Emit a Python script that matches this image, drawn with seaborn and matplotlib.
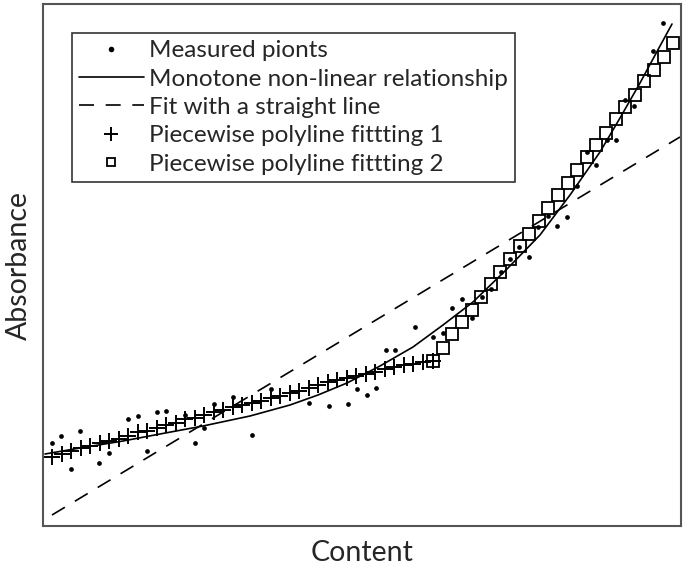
import matplotlib
matplotlib.use("Agg")
import pandas as pd
import seaborn as sns
from matplotlib import pyplot as plt

# values, in arbitrary units (no ticks on the chart)
measured_x = [9, 18, 28, 37, 56, 66, 85, 95, 104, 114, 123, 142, 152, 161, 171, 190, 209, 228,
              266, 286, 305, 314, 324, 333, 343, 352, 372, 390, 400, 409, 419, 429, 439, 448,
              458, 467, 476, 486, 495, 505, 514, 524, 534, 544, 553, 564, 573, 582, 591, 610, 620]
measured_y = [83, 90, 57, 95, 63, 73, 107, 110, 75, 114, 115, 111, 83, 98, 122, 129, 91, 137,
              123, 120, 122, 137, 131, 138, 176, 176, 199, 189, 193, 218, 227, 208, 229, 237,
              254, 267, 279, 269, 299, 310, 300, 309, 340, 374, 361, 386, 386, 426, 420, 475, 503]

curve_x = [2, 37, 80, 117, 160, 207, 247, 275, 304, 337, 370, 400, 430, 464, 497, 527, 557,
           577, 597, 617, 629]
curve_y = [72, 78, 85, 92, 100, 110, 121, 131, 143, 160, 179, 201, 224, 257, 291, 331, 374,
           408, 443, 480, 502]

straight_x = [9, 637]
straight_y = [11, 389]

piece1_x = [9, 19, 28, 38, 47, 57, 66, 76, 85, 95, 104, 114, 123, 133, 142, 152, 161, 171, 180,
            190, 199, 209, 218, 228, 237, 247, 256, 266, 275, 285, 294, 304, 313, 323, 332, 342,
            351, 361, 370, 380, 390]
piece1_y = [69, 72, 75, 78, 80, 83, 85, 87, 90, 94, 95, 98, 101, 103, 107, 108, 111, 114, 116,
            119, 121, 123, 125, 128, 130, 133, 135, 138, 141, 144, 146, 148, 150, 152, 154, 157,
            159, 161, 162, 164, 165]

piece2_x = [390, 400, 409, 419, 429, 438, 448, 457, 467, 477, 486, 496, 505, 515, 525, 534, 544,
            553, 563, 573, 582, 592, 601, 611, 621, 630]
piece2_y = [165, 178, 192, 204, 216, 229, 242, 254, 267, 280, 292, 305, 318, 331, 343, 356, 369,
            381, 393, 407, 419, 431, 445, 456, 469, 483]

measured = pd.DataFrame({"x": measured_x, "y": measured_y})
curve = pd.DataFrame({"x": curve_x, "y": curve_y})
straight = pd.DataFrame({"x": straight_x, "y": straight_y})
piece1 = pd.DataFrame({"x": piece1_x, "y": piece1_y})
piece2 = pd.DataFrame({"x": piece2_x, "y": piece2_y})

sns.set_style("white")
plt.rcParams["font.family"] = ["Lato", "DejaVu Sans"]

fig = plt.figure(figsize=(6.85, 5.74), dpi=100)
ax = fig.add_axes([43 / 685, 48 / 574, 638 / 685, 522 / 574])

sns.lineplot(data=curve, x="x", y="y", color="black", lw=1.2, ax=ax,
             label="Monotone non-linear relationship")
sns.lineplot(data=straight, x="x", y="y", color="black", lw=1.2, ax=ax,
             label="Fit with a straight line", dashes=False, linestyle=(0, (9, 7)))
sns.lineplot(data=piece1, x="x", y="y", color="black", ax=ax, linestyle="", marker="+",
             markersize=12, markeredgewidth=1.4, markeredgecolor="black",
             label="Piecewise polyline fittting 1")
sns.lineplot(data=piece2, x="x", y="y", ax=ax, linestyle="", marker="s", markersize=9,
             markerfacecolor="none", markeredgecolor="black", markeredgewidth=1.3,
             color="black", label="Piecewise polyline fittting 2")
sns.lineplot(data=measured, x="x", y="y", ax=ax, linestyle="", marker="o", markersize=3.4,
             color="black", markeredgewidth=0, label="Measured pionts")

ax.set_xlim(0, 638)
ax.set_ylim(0, 522)
ax.set_xticks([])
ax.set_yticks([])
ax.set_xlabel("Content", fontsize=20.5, labelpad=10)
ax.set_ylabel("Absorbance", fontsize=20.5, labelpad=8)
for sp in ax.spines.values():
    sp.set_color("#555555")
    sp.set_linewidth(1.5)

handles, labels = ax.get_legend_handles_labels()
order = [4, 0, 1, 2, 3]
leg = ax.legend([handles[i] for i in order], [labels[i] for i in order],
                loc="upper left", bbox_to_anchor=(72 / 685, 1 - 33 / 574),
                bbox_transform=fig.transFigure, borderaxespad=0, fontsize=17.5,
                frameon=True, fancybox=False, edgecolor="#333333", framealpha=1,
                handlelength=2.65, handletextpad=0.22, borderpad=0.3, labelspacing=0.3)
leg.get_frame().set_linewidth(1.2)
hs = leg.legend_handles
hs[0].set_markersize(4)
hs[3].set_markersize(10)
hs[4].set_markersize(6)

fig.savefig("out.png", dpi=100)
